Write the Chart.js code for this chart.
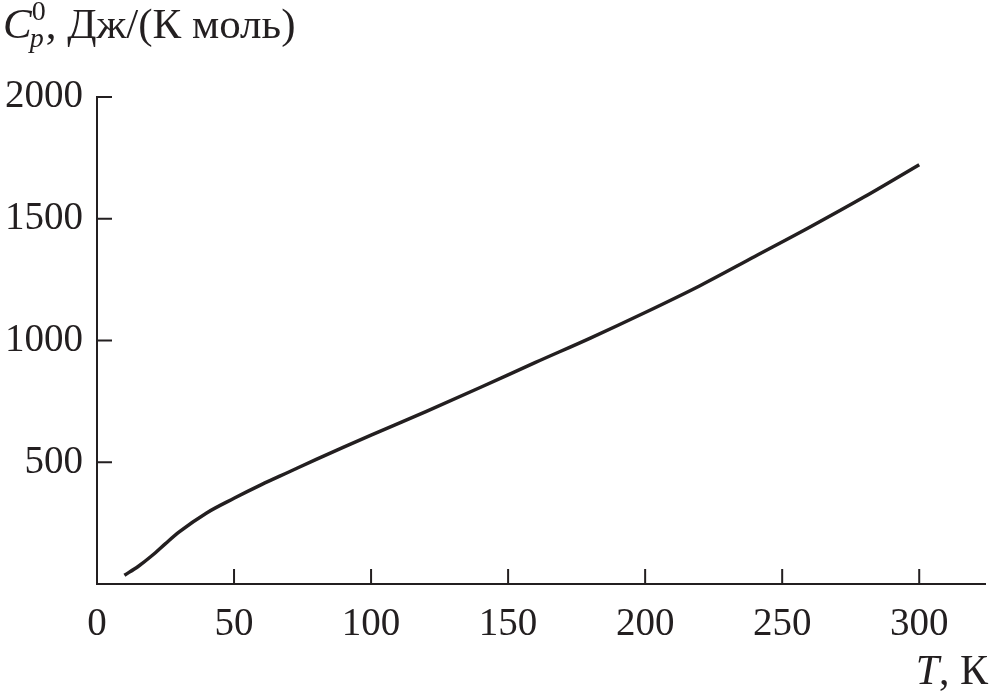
<!DOCTYPE html>
<html>
<head>
<meta charset="utf-8">
<script src="https://cdn.jsdelivr.net/npm/chart.js@4/dist/chart.umd.min.js"></script>
<style>
  html, body { margin: 0; padding: 0; background: #fff; }
  #wrap { width: 990px; height: 697px; position: relative; }
</style>
</head>
<body>
<div id="wrap"><canvas id="chart1"></canvas></div>
<script>
// данные: теплоёмкость от температуры
var temps = [10, 15, 20, 25, 30, 40, 50, 60, 70, 80, 90, 100, 120, 140, 160, 180, 200, 220, 240, 260, 280, 300];
var cp = [36, 72, 116, 166, 214, 292, 352, 408, 460, 512, 562, 611, 708, 808, 910, 1010, 1115, 1225, 1345, 1465, 1590, 1722];
var xTicks = [0, 50, 100, 150, 200, 250, 300];
var yTicks = [500, 1000, 1500, 2000];

var ink = '#231f20';
var serif = '"Liberation Serif", "DejaVu Serif", serif';

// внутренние засечки и подписи осей
var axisDecor = {
    id: 'axisDecor',
    afterDraw: function(chart) {
        var ctx = chart.ctx;
        var xs = chart.scales.x, ys = chart.scales.y;
        var left = chart.chartArea.left, bottom = chart.chartArea.bottom;
        ctx.save();
        ctx.strokeStyle = ink;
        ctx.lineWidth = 2;
        ctx.beginPath();
        xTicks.forEach(function(t) {
            if (t === 0) return;
            var px = xs.getPixelForValue(t);
            ctx.moveTo(px, bottom);
            ctx.lineTo(px, bottom - 15);
        });
        yTicks.forEach(function(t) {
            var py = ys.getPixelForValue(t);
            ctx.moveTo(left, py);
            ctx.lineTo(left + 15, py);
        });
        ctx.stroke();

        ctx.fillStyle = ink;
        ctx.textBaseline = 'alphabetic';
        // заголовок оси Y
        var x = 3, base = 38;
        ctx.font = 'italic 43px ' + serif;
        ctx.textAlign = 'left';
        ctx.fillText('C', x, base);
        x += ctx.measureText('C').width;
        ctx.font = 'italic 28px ' + serif;
        ctx.fillText('p', x - 2, base + 9);
        ctx.font = '28px ' + serif;
        ctx.fillText('0', x, base - 18);
        x += 14;
        ctx.font = '43px ' + serif;
        ctx.fillText(', Дж/(К моль)', x, base);

        // заголовок оси X
        ctx.textAlign = 'right';
        ctx.font = '42px ' + serif;
        var tail = ', К';
        var tw = ctx.measureText(tail).width;
        ctx.fillText(tail, 988, 684);
        ctx.font = 'italic 42px ' + serif;
        ctx.fillText('T', 988 - tw, 684);
        ctx.restore();
    }
};

var ctx = document.getElementById('chart1');
var chart1 = new Chart(ctx, {
    type: 'line',
    data: {
        datasets: [{
            data: temps.map(function(t, i) { return { x: t, y: cp[i] }; }),
            borderColor: ink,
            borderWidth: 3.5,
            pointRadius: 0,
            fill: false,
            cubicInterpolationMode: 'monotone'
        }]
    },
    options: {
        responsive: true,
        maintainAspectRatio: false,
        animation: false,
        layout: { padding: { top: 97, right: 5, left: 0, bottom: 0 } },
        plugins: { legend: { display: false }, tooltip: { enabled: false } },
        scales: {
            x: {
                type: 'linear',
                min: 0,
                max: 324,
                afterFit: function(s) { s.height = 113; },
                afterBuildTicks: function(s) { s.ticks = xTicks.map(function(v) { return { value: v }; }); },
                grid: { display: false, drawTicks: false },
                border: { display: true, color: ink, width: 2 },
                ticks: {
                    color: ink,
                    padding: 17,
                    font: { family: serif, size: 39 },
                    maxRotation: 0
                }
            },
            y: {
                type: 'linear',
                min: 0,
                max: 2000,
                afterFit: function(s) { s.width = 97; },
                afterBuildTicks: function(s) { s.ticks = [0].concat(yTicks).map(function(v) { return { value: v }; }); },
                grid: { display: false, drawTicks: false },
                border: { display: true, color: ink, width: 2 },
                ticks: {
                    color: ink,
                    padding: 14,
                    font: { family: serif, size: 39 },
                    callback: function(v) { return v === 0 ? '' : v; }
                }
            }
        }
    },
    plugins: [axisDecor]
});
</script>
</body>
</html>
